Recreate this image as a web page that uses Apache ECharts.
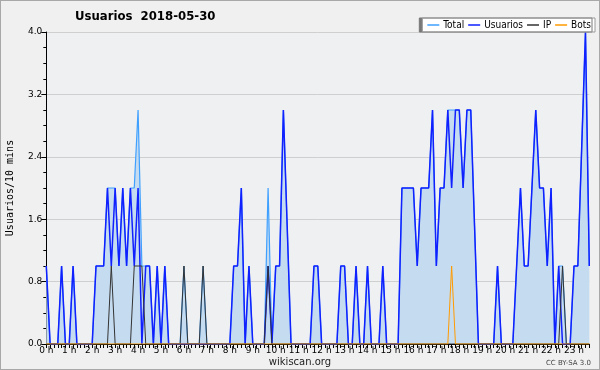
<!DOCTYPE html>
<html>
<head>
<meta charset="utf-8">
<script src="https://cdn.jsdelivr.net/npm/echarts@6/dist/echarts.min.js"></script>
<style>
  html, body { margin: 0; padding: 0; background: #f0f0f0; }
  #wrap { width: 598px; height: 368px; border: 1px solid #a8a8a8; background: #f0f0f0; }
  #chart { width: 598px; height: 368px; }
</style>
</head>
<body>
<div id="wrap"><div id="chart"></div></div>
<script>
// etiquetas de horas (un punto cada 10 minutos, 6 por hora)
var hourLabels = ['0 h', '1 h', '2 h', '3 h', '4 h', '5 h', '6 h', '7 h', '8 h', '9 h', '10 h', '11 h',
    '12 h', '13 h', '14 h', '15 h', '16 h', '17 h', '18 h', '19 h', '20 h', '21 h', '22 h', '23 h'];

var usuarios = [
    1, 0, 0, 0, 1, 0,   0, 1, 0, 0, 0, 0,   0, 1, 1, 1, 2, 1,   2, 1, 2, 1, 2, 1,
    2, 0, 1, 1, 0, 1,   0, 1, 0, 0, 0, 0,   0, 0, 0, 0, 0, 0,   0, 0, 0, 0, 0, 0,
    0, 1, 1, 2, 0, 1,   0, 0, 0, 0, 1, 0,   1, 1, 3, 1.5, 0, 0, 0, 0, 0, 0, 1, 1,
    0, 0, 0, 0, 0, 1,   1, 0, 0, 1, 0, 0,   1, 0, 0, 0, 1, 0,   0, 0, 0, 2, 2, 2,
    2, 1, 2, 2, 2, 3,   1, 2, 2, 3, 2, 3,   3, 2, 3, 3, 1.5, 0, 0, 0, 0, 0, 1, 0,
    0, 0, 0, 1, 2, 1,   1, 2, 3, 2, 2, 1,   2, 0, 1, 0, 0, 0,   1, 1, 2.5, 4, 1
];

var ip = [
    0, 0, 0, 0, 0, 0,   0, 0, 0, 0, 0, 0,   0, 0, 0, 0, 0, 1,   0, 0, 0, 0, 0, 1,
    1, 1, 0, 0, 0, 0,   0, 0, 0, 0, 0, 0,   1, 0, 0, 0, 0, 1,   0, 0, 0, 0, 0, 0,
    0, 0, 0, 0, 0, 0,   0, 0, 0, 0, 1, 0,   0, 0, 0, 0, 0, 0,   0, 0, 0, 0, 0, 0,
    0, 0, 0, 0, 0, 0,   0, 0, 0, 0, 0, 0,   0, 0, 0, 0, 0, 0,   0, 0, 0, 0, 0, 0,
    0, 0, 0, 0, 0, 0,   0, 0, 0, 0, 0, 0,   0, 0, 0, 0, 0, 0,   0, 0, 0, 0, 0, 0,
    0, 0, 0, 0, 0, 0,   0, 0, 0, 0, 0, 0,   0, 0, 0, 1, 0, 0,   0, 0, 0, 0, 0
];

var bots = [
    0, 0, 0, 0, 0, 0,   0, 0, 0, 0, 0, 0,   0, 0, 0, 0, 0, 0,   0, 0, 0, 0, 0, 0,
    0, 0, 0, 0, 0, 0,   0, 0, 0, 0, 0, 0,   0, 0, 0, 0, 0, 0,   0, 0, 0, 0, 0, 0,
    0, 0, 0, 0, 0, 0,   0, 0, 0, 0, 0, 0,   0, 0, 0, 0, 0, 0,   0, 0, 0, 0, 0, 0,
    0, 0, 0, 0, 0, 0,   0, 0, 0, 0, 0, 0,   0, 0, 0, 0, 0, 0,   0, 0, 0, 0, 0, 0,
    0, 0, 0, 0, 0, 0,   0, 0, 0, 0, 1, 0,   0, 0, 0, 0, 0, 0,   0, 0, 0, 0, 0, 0,
    0, 0, 0, 0, 0, 0,   0, 0, 0, 0, 0, 0,   0, 0, 0, 0, 0, 0,   0, 0, 0, 0, 0
];

var total = [
    1, 0, 0, 0, 1, 0,   0, 1, 0, 0, 0, 0,   0, 1, 1, 1, 2, 2,   2, 1, 2, 1, 2, 2,
    3, 1, 1, 1, 0, 1,   0, 1, 0, 0, 0, 0,   1, 0, 0, 0, 0, 1,   0, 0, 0, 0, 0, 0,
    0, 1, 1, 2, 0, 1,   0, 0, 0, 0, 2, 0,   1, 1, 3, 1.5, 0, 0, 0, 0, 0, 0, 1, 1,
    0, 0, 0, 0, 0, 1,   1, 0, 0, 1, 0, 0,   1, 0, 0, 0, 1, 0,   0, 0, 0, 2, 2, 2,
    2, 1, 2, 2, 2, 3,   1, 2, 2, 3, 3, 3,   3, 2, 3, 3, 1.5, 0, 0, 0, 0, 0, 1, 0,
    0, 0, 0, 1, 2, 1,   1, 2, 3, 2, 2, 1,   2, 0, 1, 1, 0, 0,   1, 1, 2.5, 4, 1
];

function toPoints(arr) {
    var out = [];
    for (var i = 0; i < arr.length; i++) {
        out.push([i, arr[i]]);
    }
    return out;
}

var chart = echarts.init(document.getElementById('chart'));

var option = {
    animation: false,
    backgroundColor: '#f0f0f0',
    title: {
        text: 'Usuarios  2018-05-30',
        left: 74,
        top: 9,
        padding: 0,
        textStyle: {
            fontFamily: 'DejaVu Sans Condensed, DejaVu Sans',
            fontSize: 13,
            fontWeight: 'bold',
            color: '#000'
        }
    },
    legend: {
        right: 4,
        top: 17,
        icon: 'rect',
        itemWidth: 12,
        itemHeight: 1.5,
        itemGap: 4,
        padding: [2, 4, 2, 5],
        backgroundColor: '#ffffff',
        borderColor: '#9a9a9a',
        borderWidth: 1,
        shadowColor: '#777777',
        shadowOffsetX: -3,
        shadowOffsetY: 0,
        shadowBlur: 0,
        textStyle: {
            fontFamily: 'DejaVu Sans Condensed, DejaVu Sans',
            fontSize: 10,
            color: '#000',
            padding: [0, 0, 0, -1]
        },
        data: ['Total', 'Usuarios', 'IP', 'Bots']
    },
    grid: {
        left: 45.3,
        top: 31,
        width: 543,
        height: 312,
        containLabel: false,
        outerBoundsMode: 'none',
        show: true,
        backgroundColor: '#eef0f2',
        borderWidth: 0
    },
    xAxis: {
        type: 'value',
        min: 0,
        max: 142,
        interval: 6,
        axisLine: { lineStyle: { color: '#000', width: 1 } },
        axisTick: { length: 4, lineStyle: { color: '#000' } },
        minorTick: { show: true, splitNumber: 6, length: 4, lineStyle: { color: '#000' } },
        splitLine: { show: false },
        axisLabel: {
            margin: 2,
            fontFamily: 'DejaVu Sans',
            fontSize: 9,
            color: '#000',
            formatter: function (v) {
                return v % 6 === 0 ? hourLabels[v / 6] : '';
            }
        }
    },
    yAxis: {
        type: 'value',
        min: 0,
        max: 4,
        interval: 0.8,
        name: 'Usuarios/10 mins',
        nameLocation: 'middle',
        nameGap: 31,
        nameTextStyle: {
            fontFamily: 'DejaVu Sans Mono',
            fontSize: 10,
            color: '#000'
        },
        axisLine: { show: true, lineStyle: { color: '#000', width: 1 } },
        axisTick: { show: true, length: 5, lineStyle: { color: '#000' } },
        minorTick: { show: true, splitNumber: 4, length: 3, lineStyle: { color: '#000' } },
        splitLine: { show: true, lineStyle: { color: '#cfcfcf', width: 1 } },
        axisLabel: {
            margin: 4,
            fontFamily: 'DejaVu Sans',
            fontSize: 9,
            color: '#000',
            formatter: function (v) { return v.toFixed(1); }
        }
    },
    series: [
        {
            name: 'Total',
            type: 'line',
            data: toPoints(total),
            showSymbol: false,
            color: '#3fa0ff',
            lineStyle: { color: '#3fa0ff', width: 1.2 },
            areaStyle: { color: '#c5dcf0', opacity: 1 }
        },
        {
            name: 'Usuarios',
            type: 'line',
            data: toPoints(usuarios),
            showSymbol: false,
            color: '#1020ff',
            lineStyle: { color: '#1020ff', width: 1.5 }
        },
        {
            name: 'IP',
            type: 'line',
            data: toPoints(ip),
            showSymbol: false,
            color: '#333333',
            lineStyle: { color: '#333333', width: 1 }
        },
        {
            name: 'Bots',
            type: 'line',
            data: toPoints(bots),
            showSymbol: false,
            color: '#ff9a00',
            lineStyle: { color: '#ff9a00', width: 1 }
        }
    ],
    graphic: [
        {
            type: 'text',
            left: 'center',
            top: 356,
            style: { text: 'wikiscan.org', font: '10px DejaVu Sans', fill: '#222' }
        },
        {
            type: 'text',
            right: 8,
            top: 359,
            style: { text: 'CC BY-SA 3.0', font: '7px DejaVu Sans', fill: '#444' }
        }
    ]
};

chart.setOption(option);
</script>
</body>
</html>
